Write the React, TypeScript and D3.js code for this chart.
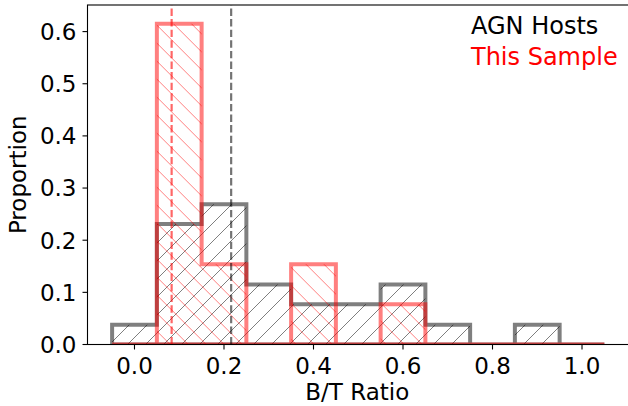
import React from 'react';
import * as d3 from 'd3';

// histogram bins (B/T ratio), proportions per bin
const binEdges = [-0.05, 0.05, 0.15, 0.25, 0.35, 0.45, 0.55, 0.65, 0.75, 0.85, 0.95, 1.05];
const agnHosts = [0.038, 0.231, 0.269, 0.115, 0.077, 0.077, 0.115, 0.038, 0, 0.038, 0];
const thisSample = [0, 0.615, 0.154, 0, 0.154, 0, 0.077, 0, 0, 0, 0];
const agnMedian = 0.216;
const sampleMedian = 0.083;
const xTicks = [0.0, 0.2, 0.4, 0.6, 0.8, 1.0];
const yTicks = [0.0, 0.1, 0.2, 0.3, 0.4, 0.5, 0.6];

const W = 628;
const H = 406;
const margin = { top: 5, right: -1, bottom: 61.5, left: 87.5 };
const font = '"DejaVu Sans", sans-serif';

const App = () => {
    const x = d3.scaleLinear().domain([-0.105, 1.105]).range([margin.left, W - margin.right]);
    const y = d3.scaleLinear().domain([0, 0.651]).range([H - margin.bottom, margin.top]);

    const stepPath = (vals: number[]) => {
        const pts: [number, number][] = [[binEdges[0], 0]];
        vals.forEach((v, i) => {
            pts.push([binEdges[i], v]);
            pts.push([binEdges[i + 1], v]);
        });
        pts.push([binEdges[binEdges.length - 1], 0]);
        return d3.line<[number, number]>()
            .x(d => x(d[0]))
            .y(d => y(d[1]))(pts) + 'Z';
    };

    const agnPath = stepPath(agnHosts);
    const samplePath = stepPath(thisSample);
    const x0 = x.range()[0], x1 = x.range()[1];
    const y0 = y.range()[0], y1 = y.range()[1];

    return (
        <svg width={W} height={H} style={{ position: 'absolute', left: 0, top: 0, background: '#fff' }}>
            <defs>
                <clipPath id="plot">
                    <rect x={x0} y={y1} width={x1 - x0} height={y0 - y1} />
                </clipPath>
                <clipPath id="agnClip"><path d={agnPath} /></clipPath>
                <clipPath id="sampleClip"><path d={samplePath} /></clipPath>
                <pattern id="hatchFwd" patternUnits="userSpaceOnUse" width={18} height={18} x={4} y={0}>
                    <path d="M0,18L18,0M-9,9L9,-9M9,27L27,9" stroke="#000" strokeOpacity={0.5} strokeWidth={1} />
                </pattern>
                <pattern id="hatchBack" patternUnits="userSpaceOnUse" width={18} height={18} x={0} y={12.3}>
                    <path d="M0,0L18,18M-9,9L9,27M9,-9L27,9" stroke="#f00" strokeOpacity={0.5} strokeWidth={1} />
                </pattern>
            </defs>

            <g clipPath="url(#plot)">
                <rect x={x0} y={y1} width={x1 - x0} height={y0 - y1} fill="url(#hatchFwd)" clipPath="url(#agnClip)" />
                <path d={agnPath} fill="none" stroke="#000" strokeOpacity={0.5} strokeWidth={4} strokeLinejoin="miter" />
                <rect x={x0} y={y1} width={x1 - x0} height={y0 - y1} fill="url(#hatchBack)" clipPath="url(#sampleClip)" />
                <path d={samplePath} fill="none" stroke="#f00" strokeOpacity={0.5} strokeWidth={4} strokeLinejoin="miter" />

                <line x1={x(agnMedian)} x2={x(agnMedian)} y1={y0} y2={y1}
                    stroke="#000" strokeOpacity={0.55} strokeWidth={2.2} strokeDasharray="7.4,3.2" />
                <line x1={x(sampleMedian)} x2={x(sampleMedian)} y1={y0} y2={y1}
                    stroke="#f00" strokeOpacity={0.6} strokeWidth={2.2} strokeDasharray="7.4,3.2" />
            </g>

            {/* spines */}
            <rect x={x0} y={y1} width={x1 - x0} height={y0 - y1} fill="none" stroke="#000" strokeWidth={1.1} />

            {/* x axis */}
            {xTicks.map(t => (
                <g key={'x' + t} transform={`translate(${x(t)},${y0})`}>
                    <line y2={5} stroke="#000" strokeWidth={1.1} />
                    <text y={29} textAnchor="middle" fontFamily={font} fontSize={23} fill="#000">{t.toFixed(1)}</text>
                </g>
            ))}
            <text x={(x0 + 627) / 2} y={400} textAnchor="middle" fontFamily={font} fontSize={23} fill="#000">B/T Ratio</text>

            {/* y axis */}
            {yTicks.map(t => (
                <g key={'y' + t} transform={`translate(${x0},${y(t)})`}>
                    <line x2={-5} stroke="#000" strokeWidth={1.1} />
                    <text x={-11} y={8.4} textAnchor="end" fontFamily={font} fontSize={23} fill="#000">{t.toFixed(1)}</text>
                </g>
            ))}
            <text transform={`translate(26,${(y0 + y1) / 2}) rotate(-90)`} textAnchor="middle"
                fontFamily={font} fontSize={23} fill="#000">Proportion</text>

            {/* legend */}
            <text x={471} y={34} fontFamily={font} fontSize={24} fill="#000">AGN Hosts</text>
            <text x={471} y={65} fontFamily={font} fontSize={24} fill="#f00">This Sample</text>
        </svg>
    );
};

export default App;
